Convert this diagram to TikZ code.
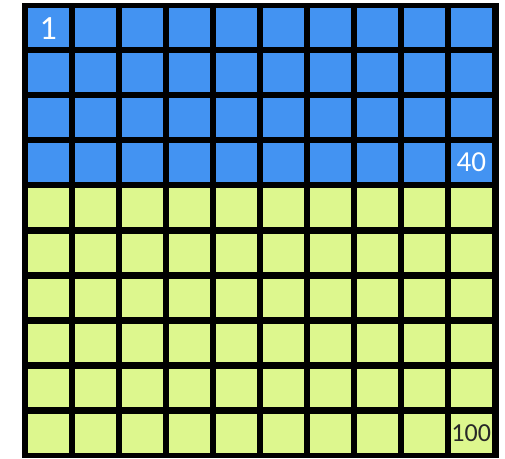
\documentclass[tikz,border=0pt]{standalone}
\usepackage{fontspec}
\setmainfont{Carlito}
\usepackage{xcolor}
\definecolor{cellblue}{RGB}{67, 147, 242}
\definecolor{cellgreen}{RGB}{221, 247, 142}
\definecolor{numdark}{RGB}{40, 40, 40}
\tikzset{
  % Kataklar
  cellbase/.style  = {rectangle, inner sep=0pt, minimum width=40.5pt, minimum height=38.6pt},
  cellA/.style     = {cellbase, fill=cellblue},
  cellB/.style     = {cellbase, fill=cellgreen},
  % Raqamlar
  numwhite/.style  = {text=white},
  numblack/.style  = {text=numdark},
}
\begin{document}
\begin{tikzpicture}[x=1pt, y=-1pt]
  \useasboundingbox (0,0) rectangle (505,458);
  % Qora fon
  \fill[black] (22,3) rectangle (498.5,458);
  % 10 x 10 katak
  \foreach \r in {1,...,10} {
    \foreach \c in {1,...,10} {
      \ifnum\r<5
        \node[cellA] (cell-\r-\c) at ({48.25+47*(\c-1)},{27.3+45.1*(\r-1)}) {};
      \else
        \node[cellB] (cell-\r-\c) at ({48.25+47*(\c-1)},{27.3+45.1*(\r-1)}) {};
      \fi
    }
  }
  % Raqamlar
  \node[numwhite, font=\fontsize{34}{34}\selectfont] (n1) at ([yshift=-1pt]cell-1-1) {1};
  \node[numwhite, font=\fontsize{29}{29}\selectfont] (n40) at (cell-4-10) {40};
  \node[numblack, font=\fontsize{26}{26}\selectfont] (n100) at (cell-10-10) {100};
\end{tikzpicture}
\end{document}
